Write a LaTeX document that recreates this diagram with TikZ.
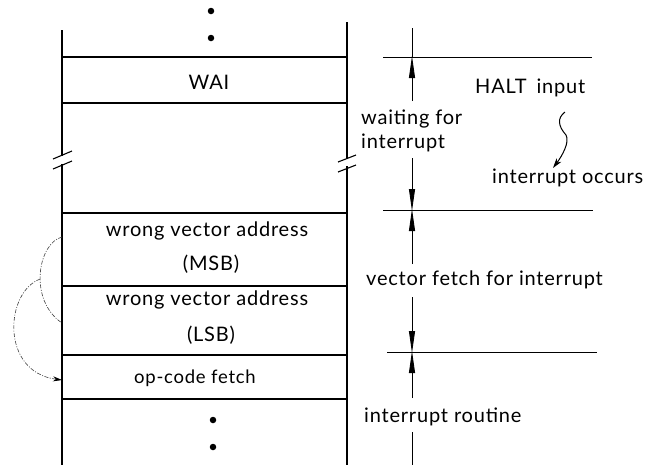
\documentclass[tikz,border=0pt]{standalone}
\usepackage{fontspec}
\setmainfont{Lato}[LetterSpace=4]
\usetikzlibrary{arrows.meta}
\begin{document}
\begin{tikzpicture}[x=1pt,y=-1pt,
  cell/.style={line width=1.1pt},
  tline/.style={line width=0.9pt},
  lbl/.style={inner sep=0pt,font=\fontsize{20}{22}\selectfont},
  oplbl/.style={inner sep=0pt,font=\fontsize{18.5}{20}\selectfont},
  rlbl/.style={lbl,anchor=west},
  vtip/.style={-{Triangle[width=6pt,length=22pt]}},
  loopline/.style={line width=0.6pt,black!75,dash pattern=on 4pt off 1.5pt on 1pt off 1.5pt},
  dot/.style={circle,fill=black,inner sep=0pt,minimum size=6.5pt}]
\useasboundingbox (0,0) rectangle (659,475);
% column
\draw[cell] (62,30) -- (62,156);
\draw[cell] (62,164) -- (62,465);
\draw[cell] (53,159) -- (72,151);
\draw[cell] (53,169) -- (72,161);
\draw[cell] (347,22) -- (347,158);
\draw[cell] (347,166) -- (347,465);
\draw[cell] (338,162) -- (356,155);
\draw[cell] (338,172) -- (356,165);
\foreach \y in {57,103,213,286,355,399} \draw[cell] (62,\y) -- (347,\y);
% dots
\node[dot] (d1) at (211,11) {};
\node[dot] (d2) at (211,38) {};
\node[dot] (d3) at (213,420) {};
\node[dot] (d4) at (213,447) {};
% cell texts
\node[lbl] (wai) at (209,82) {WAI};
\node[lbl] (msb1) at (207,231) {wrong vector address};
\node[lbl] (msb2) at (211,264) {(MSB)};
\node[lbl] (lsb1) at (207,300) {wrong vector address};
\node[lbl] (lsb2) at (211,335) {(LSB)};
\node[oplbl] (op) at (195,378) {op-code fetch};
% loop connectors
\coordinate (msbL) at (62,237);
\coordinate (lsbL) at (62,323);
\coordinate (opL) at (62,380);
\draw[loopline] (msbL) .. controls (38,243) and (28,300) .. coordinate[pos=0.55] (mid) (lsbL);
\draw[loopline,-{Stealth[length=9pt,width=5pt,black]}] (mid) .. controls (5,292) and (0,372) .. (opL);
% right timeline
\draw[tline] (383,57) -- (592,57);
\draw[tline] (383,210) -- (593,210);
\draw[tline] (387,352) -- (597,352);
\coordinate (t0) at (412,28);
\coordinate (t1) at (412,57);
\coordinate (t2) at (412,210);
\coordinate (t3) at (412,352);
\coordinate (t4) at (412,465);
\draw[tline] (t0) -- (t1);
\node[rlbl] (wait1) at (361,119) {waiting for};
\node[rlbl] (wait2) at (361,143) {interrupt};
\draw[tline,vtip] (412,101) -- ([yshift=1pt]t1);
\draw[tline,vtip] (412,158) -- ([yshift=-1pt]t2);
\node[rlbl] (vf) at (366,280) {vector fetch for interrupt};
\draw[tline,vtip] (412,264) -- ([yshift=1pt]t2);
\draw[tline,vtip] (412,297) -- ([yshift=-1pt]t3);
\node[rlbl] (ir) at (364,417) {interrupt routine};
\draw[tline,vtip] (412,398) -- ([yshift=1pt]t3);
\draw[tline] (412,432) -- (t4);
% HALT
\node[rlbl] (halt) at (475,88) {HALT\hspace{10pt}input};
\node[rlbl] (occ) at (492,178) {interrupt occurs};
\draw[line width=1pt,-{Stealth[length=10pt,width=6pt]}] (565,112) .. controls (557,118) and (558,126) .. (566,135) .. controls (570,142) and (562,156) .. (553,168);
\end{tikzpicture}
\end{document}
